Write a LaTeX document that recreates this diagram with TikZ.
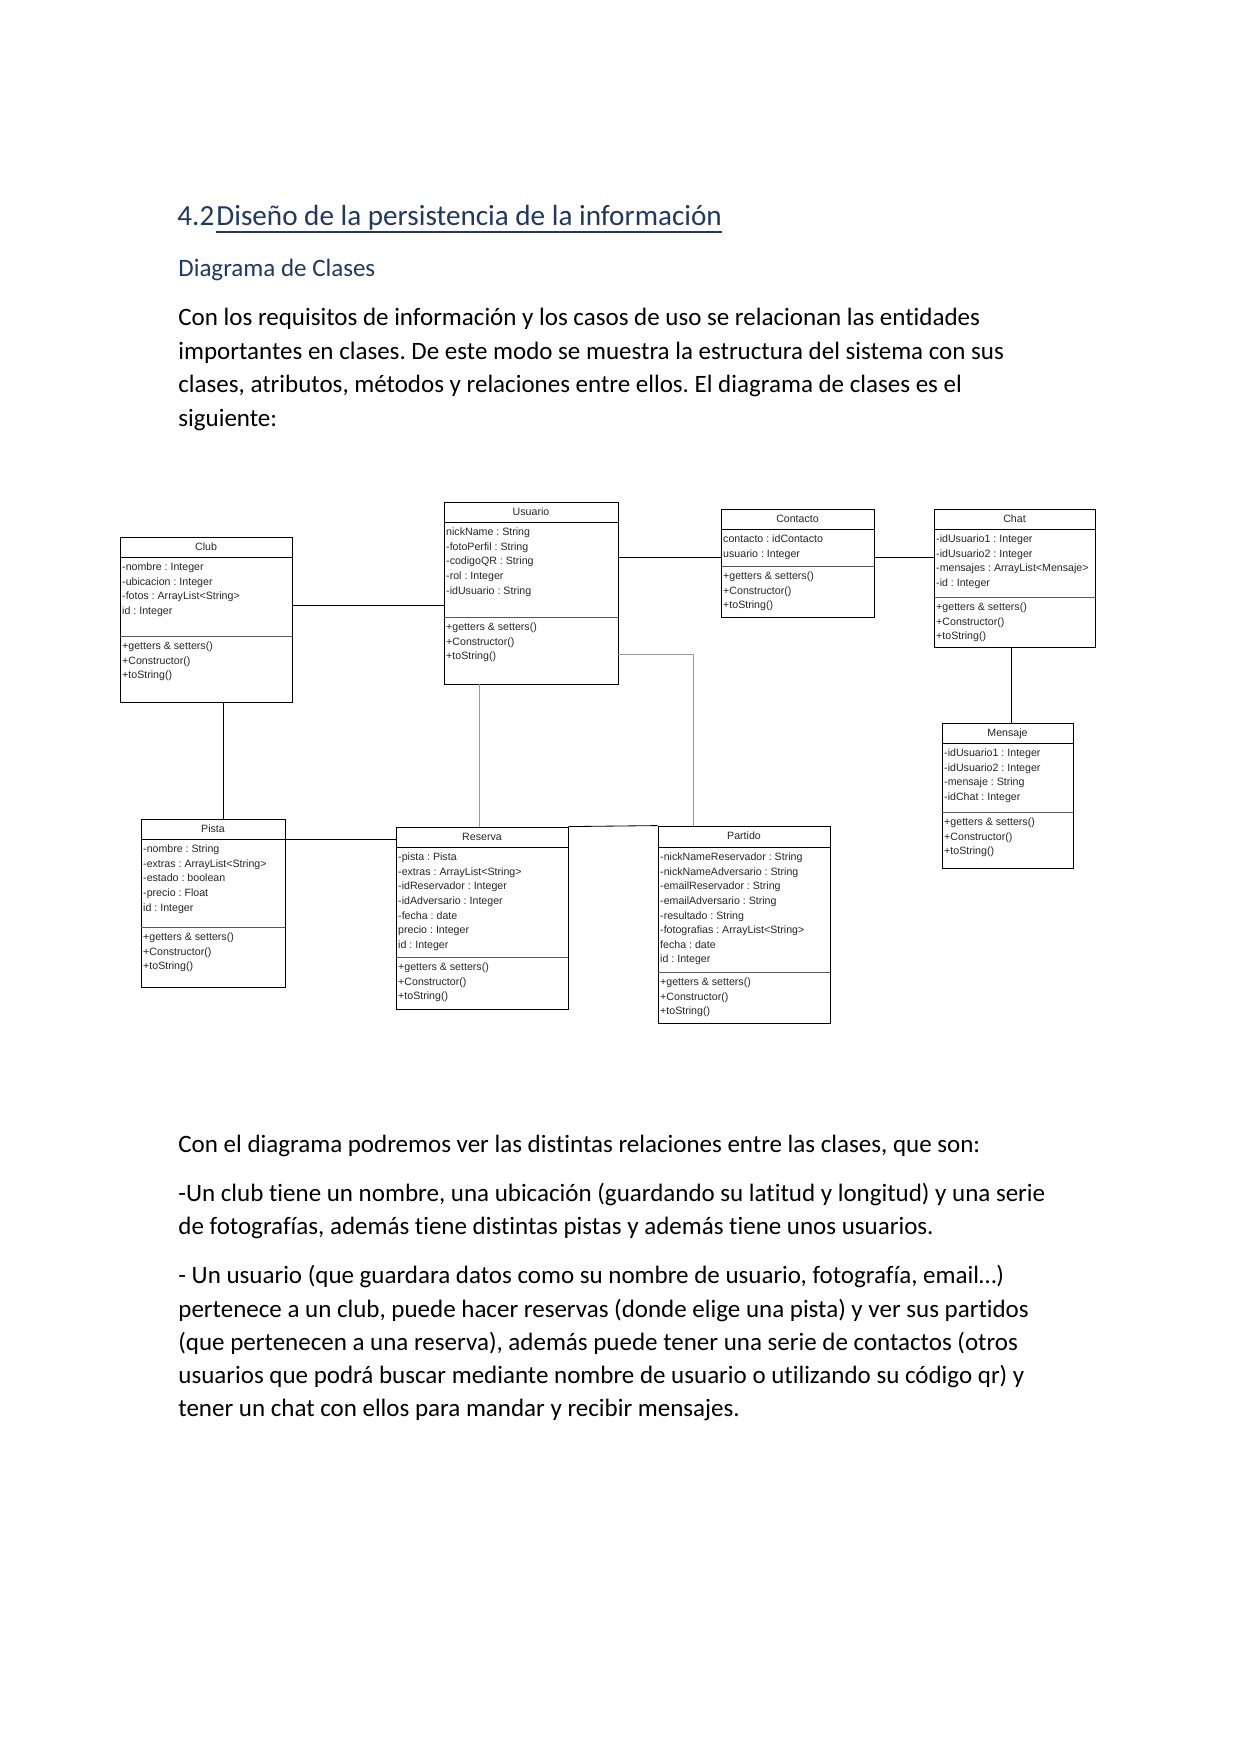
\documentclass[tikz,border=0pt]{standalone}
\usepackage{fontspec}
\setmainfont{Carlito}[Ligatures=NoCommon]
\newfontfamily\umlfont{Liberation Sans}
\usetikzlibrary{fit}
\definecolor{headblue}{HTML}{1F3864}
\frenchspacing
\newcommand\umlclass[8]{%
  \fill[gray!50] (#2+1.2,#3+1.2) rectangle (#4+1.2,#5+1.2);
  \node[umlbox, fit={(#2,#3)(#4,#5)}] (#1) {};
  \draw[hdrline] (#2,#6) -- (#4,#6);
  \draw[sepline] (#2,#7) -- (#4,#7);
  \node[umltext, anchor=base] at ({(#2+#4)/2}, {(#3+#6)/2+3.4}) {#8};
}
\newcommand\umlrows[3]{%
  \foreach \t [count=\i from 0] in {#3} {
    \node[umltext, anchor=base west] at (#1+1.8, #2+13.6+\i*14.6) {\t};
  }
}
\tikzset{
  umlbox/.style={draw=black, fill=white, line width=0.4pt, inner sep=0pt},
  hdrline/.style={draw=black, line width=0.4pt},
  sepline/.style={draw=gray!70!black, line width=0.4pt},
  umltext/.style={inner sep=0pt, font=\umlfont\fontsize{5.1pt}{6pt}\selectfont, text=black!85},
  conn/.style={draw=black, line width=0.4pt},
  connG/.style={draw=gray!80, line width=0.4pt},
  bodytext/.style={inner sep=0pt, anchor=base west, font=\fontsize{12pt}{14pt}\selectfont, text=black},
  headtext/.style={inner sep=0pt, anchor=base west, font=\fontsize{14pt}{17pt}\selectfont, text=headblue},
  subtext/.style={inner sep=0pt, anchor=base west, font=\fontsize{12pt}{14pt}\selectfont, text=headblue}
}
\begin{document}
\begin{tikzpicture}[x=0.48006pt, y=-0.48006pt]
\useasboundingbox (0,0) rectangle (1240,1754);
\fill[white] (0,0) rectangle (1240,1754);

% Heading
\node[headtext] (num) at (177,226) {4.2};
\node[headtext] (title) at (216,226) {Diseño de la persistencia de la información};
\draw[headblue, line width=0.65pt] ([yshift=-2.8pt]title.base west) -- ([yshift=-2.8pt]title.base east);
\node[subtext] (sub) at (178,277) {Diagrama de Clases};

% Intro paragraph
\node[bodytext] (p1) at (178,326) {Con los requisitos de información y los casos de uso se relacionan las entidades};
\node[bodytext] (p2) at (178,359.5) {importantes en clases. De este modo se muestra la estructura del sistema con sus};
\node[bodytext] (p3) at (178,393) {clases, atributos, métodos y relaciones entre ellos. El diagrama de clases es el};
\node[bodytext] (p4) at (178,426.5) {siguiente:};

% Classes
\umlclass{club}{120}{537}{292}{702}{557}{636}{Club}
\umlrows{120}{557}{-nombre : Integer, -ubicacion : Integer, -fotos : ArrayList<String>, id : Integer}
\umlrows{120}{636}{+getters \& setters(), +Constructor(), +toString()}

\umlclass{usuario}{444}{502}{618}{684}{522}{617}{Usuario}
\umlrows{444}{522}{nickName : String, -fotoPerfil : String, -codigoQR : String, -rol : Integer, -idUsuario : String}
\umlrows{444}{617}{+getters \& setters(), +Constructor(), +toString()}

\umlclass{contacto}{721}{509}{874}{617}{529}{566}{Contacto}
\umlrows{721}{529}{contacto : idContacto, usuario : Integer}
\umlrows{721}{566}{+getters \& setters(), +Constructor(), +toString()}

\umlclass{chat}{934}{509}{1095}{647}{529}{597}{Chat}
\umlrows{934}{529}{-idUsuario1 : Integer, -idUsuario2 : Integer, -mensajes : ArrayList<Mensaje>, -id : Integer}
\umlrows{934}{597}{+getters \& setters(), +Constructor(), +toString()}

\umlclass{mensaje}{942}{723}{1073}{868}{743}{812}{Mensaje}
\umlrows{942}{743}{-idUsuario1 : Integer, -idUsuario2 : Integer, -mensaje : String, -idChat : Integer}
\umlrows{942}{812}{+getters \& setters(), +Constructor(), +toString()}

\umlclass{pista}{141}{819}{285}{987}{839}{927}{Pista}
\umlrows{141}{839}{-nombre : String, -extras : ArrayList<String>, -estado : boolean, -precio : Float, id : Integer}
\umlrows{141}{927}{+getters \& setters(), +Constructor(), +toString()}

\umlclass{reserva}{396}{827}{568}{1009}{847}{957}{Reserva}
\umlrows{396}{847}{-pista : Pista, -extras : ArrayList<String>, -idReservador : Integer, -idAdversario : Integer, -fecha : date, precio : Integer, id : Integer}
\umlrows{396}{957}{+getters \& setters(), +Constructor(), +toString()}

\umlclass{partido}{658}{826}{830}{1023}{847}{972}{Partido}
\umlrows{658}{847}{-nickNameReservador : String, -nickNameAdversario : String, -emailReservador : String, -emailAdversario : String, -resultado : String, -fotografias : ArrayList<String>, fecha : date, id : Integer}
\umlrows{658}{972}{+getters \& setters(), +Constructor(), +toString()}

% Connectors
\coordinate (bend) at (693,654);
\draw[conn] (club.east |- 0,605) -- (usuario.west |- 0,605);
\draw[conn] (usuario.east |- 0,557) -- (contacto.west |- 0,557);
\draw[conn] (contacto.east |- 0,557) -- (chat.west |- 0,557);
\draw[conn] (chat.south -| 1011,0) -- (mensaje.north -| 1011,0);
\draw[conn] (club.south -| 223,0) -- (pista.north -| 223,0);
\draw[conn] (pista.east |- 0,839) -- (reserva.west |- 0,839);
\draw[conn] (reserva.north east) -- (partido.north west);
\draw[connG] (usuario.south -| 479,0) -- (reserva.north -| 479,0);
\draw[connG] (usuario.east |- bend) -- (bend) -- (partido.north -| bend);

% Lower text
\node[bodytext] (q1) at (178,1152) {Con el diagrama podremos ver las distintas relaciones entre las clases, que son:};
\node[bodytext] (q2) at (178,1201) {-Un club tiene un nombre, una ubicación (guardando su latitud y longitud) y una serie};
\node[bodytext] (q3) at (178,1234.5) {de fotografías, además tiene distintas pistas y además tiene unos usuarios.};
\node[bodytext] (q4) at (178,1283.5) {- Un usuario (que guardara datos como su nombre de usuario, fotografía, email…)};
\node[bodytext] (q5) at (178,1317) {pertenece a un club, puede hacer reservas (donde elige una pista) y ver sus partidos};
\node[bodytext] (q6) at (178,1350.5) {(que pertenecen a una reserva), además puede tener una serie de contactos (otros};
\node[bodytext] (q7) at (178,1383.5) {usuarios que podrá buscar mediante nombre de usuario o utilizando su código qr) y};
\node[bodytext] (q8) at (178,1416.5) {tener un chat con ellos para mandar y recibir mensajes.};
\end{tikzpicture}
\end{document}
